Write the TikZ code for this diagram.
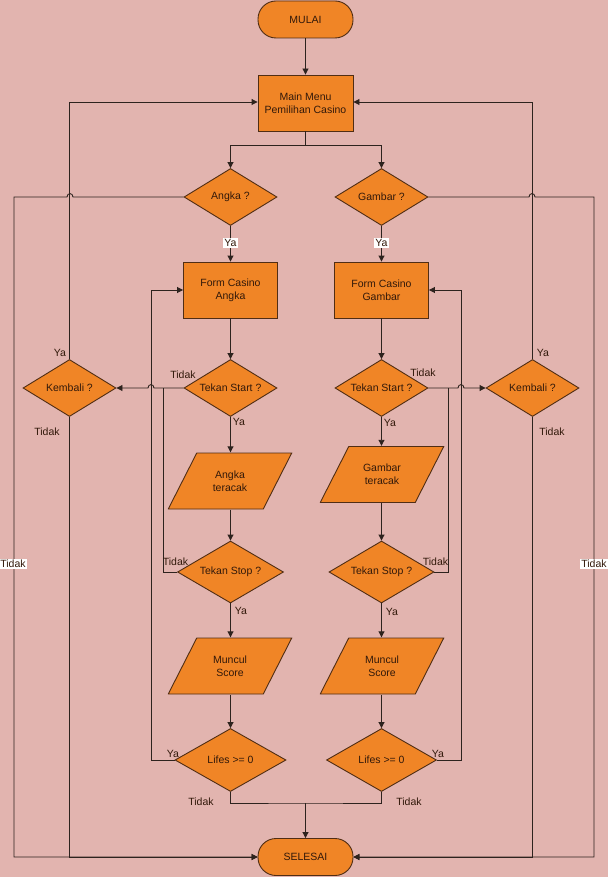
\documentclass[tikz,border=0pt]{standalone}
\usepackage{fontspec}
\setmainfont{Liberation Sans}
\usetikzlibrary{shapes.geometric,arrows.meta,calc}
\definecolor{bg}{RGB}{226,180,175}
\definecolor{orng}{RGB}{240,133,38}
\definecolor{edgec}{RGB}{80,45,20}
\definecolor{lnc}{RGB}{45,35,30}
\definecolor{txtc}{RGB}{50,25,10}
\begin{document}
\begin{tikzpicture}[x=1pt,y=-1pt,font=\fontsize{10.5}{13}\selectfont,
  shp/.style={draw=edgec,fill=orng,line width=0.9pt,text=txtc,align=center,inner sep=0pt},
  term/.style={shp,rectangle,rounded corners=18pt,minimum width=95pt,minimum height=37pt},
  procbox/.style={shp,rectangle,minimum width=94pt,minimum height=56pt},
  dec/.style={shp,diamond,aspect=1.7,minimum width=93pt,minimum height=57pt},
  iobox/.style={rectangle,inner sep=0pt,align=center,text=txtc,minimum width=124.5pt,minimum height=57pt,
    path picture={\draw[draw=edgec,fill=orng,line width=0.9pt]
      ([xshift=29pt,yshift=-0.5pt]path picture bounding box.north west) --
      ([xshift=-0.5pt,yshift=-0.5pt]path picture bounding box.north east) --
      ([xshift=-29pt,yshift=0.5pt]path picture bounding box.south east) --
      ([xshift=0.5pt,yshift=0.5pt]path picture bounding box.south west) -- cycle;}},
  con/.style={draw=lnc,line width=0.9pt},
  arr/.style={con,-{Triangle[length=6pt,width=6pt]}},
  lbl/.style={text=txtc,inner sep=1pt},
  wlbl/.style={lbl,fill=white}]
\fill[bg] (0,0) rectangle (608,877);
\useasboundingbox (0,0) rectangle (608,877);

% nodes
\node[term] (mulai) at (305.5,19.5) {MULAI};
\node[procbox,minimum width=95pt] (menu) at (305.5,103) {Main Menu\\Pemilihan Casino};
\node[dec] (angka) at (230.5,197) {Angka ?};
\node[dec] (gambar) at (381.5,197) {Gambar ?};
\node[procbox] (formA) at (230.5,290) {Form Casino\\Angka};
\node[procbox] (formG) at (381.5,290) {Form Casino\\Gambar};
\node[dec] (startA) at (230.5,388) {Tekan Start ?};
\node[dec] (startG) at (381.5,388) {Tekan Start ?};
\node[dec] (kemA) at (69.5,388) {Kembali ?};
\node[dec] (kemG) at (532.5,388) {Kembali ?};
\node[iobox] (acakA) at (230,481) {Angka\\teracak};
\node[iobox] (acakG) at (382,474.5) {Gambar\\teracak};
\node[dec,minimum width=106pt,minimum height=62pt] (stopA) at (230.5,572) {Tekan Stop ?};
\node[dec,minimum width=105pt,minimum height=62pt] (stopG) at (381.5,572) {Tekan Stop ?};
\node[iobox] (scoreA) at (230,666) {Muncul\\Score};
\node[iobox] (scoreG) at (382,666) {Muncul\\Score};
\node[dec,minimum width=111pt,minimum height=63pt] (lifesA) at (230.5,760) {Lifes >= 0};
\node[dec,minimum width=110pt,minimum height=63pt] (lifesG) at (381.5,760) {Lifes >= 0};
\node[term] (selesai) at (305.5,857) {SELESAI};

% main flow
\draw[arr] (mulai) -- (menu);
\draw[con] (menu.south) -- (305.5,145) coordinate (br);
\draw[arr] (br) -| (angka.north);
\draw[arr] (br) -| (gambar.north);
\draw[arr] (angka) -- (formA);
\draw[arr] (gambar) -- (formG);
\draw[arr] (formA) -- (startA);
\draw[arr] (formG) -- (startG);
\draw[arr] (startA.south) -- (startA.south |- acakA.north);
\draw[arr] (startG.south) -- (startG.south |- acakG.north);
\draw[arr] (stopA.north |- acakA.south) -- (stopA.north);
\draw[arr] (stopG.north |- acakG.south) -- (stopG.north);
\draw[arr] (stopA.south) -- (stopA.south |- scoreA.north);
\draw[arr] (stopG.south) -- (stopG.south |- scoreG.north);
\draw[arr] (lifesA.north |- scoreA.south) -- (lifesA.north);
\draw[arr] (lifesG.north |- scoreG.south) -- (lifesG.north);
\coordinate (jn) at (305.5,803);
\draw[con] (lifesA.south) |- (jn) -| (lifesG.south);
\draw[arr] (jn) -- (selesai.north);

% left side
\draw[arr] (angka.west) -- (73,197) .. controls (73,192.5) and (67,192.5) .. (67,197) -- (14,197) -- (14,857) -- (selesai.west);
\draw[arr] (kemA.north) -- (69.5,102) -- (menu.west |- 0,102);
\draw[arr] (kemA.south) -- (kemA.south |- selesai.west) -- (selesai.west);
\draw[arr] (startA.west) -- (154,388) .. controls (154,383.5) and (148,383.5) .. (148,388) -- (kemA.east);
\draw[con] (stopA.west) -- (163,572) -- (163,388);
\draw[arr] (lifesA.west) -- (151,760) -- (151,290) -- (formA.west);

% right side
\draw[arr] (gambar.east) -- (529,197) .. controls (529,192.5) and (535,192.5) .. (535,197) -- (594,197) -- (594,857) -- (selesai.east);
\draw[arr] (kemG.north) -- (532.5,102) -- (menu.east |- 0,102);
\draw[arr] (kemG.south) -- (kemG.south |- selesai.east) -- (selesai.east);
\draw[arr] (startG.east) -- (458,388) .. controls (458,383.5) and (464,383.5) .. (464,388) -- (kemG.west);
\draw[con] (stopG.east) -- (448,572) -- (448,388);
\draw[arr] (lifesG.east) -- (461,760) -- (461,290) -- (formG.east);

% labels
\node[wlbl] (ya1) at (230.5,243) {Ya};
\node[wlbl] (ya2) at (381.5,243) {Ya};
\node[lbl] (t1) at (183,375) {Tidak};
\node[lbl] (y3) at (239,422) {Ya};
\node[lbl] (t2) at (423,373) {Tidak};
\node[lbl] (y4) at (390,423) {Ya};
\node[lbl] (y5) at (60,353) {Ya};
\node[lbl] (t3) at (47,432) {Tidak};
\node[lbl] (y6) at (543,353) {Ya};
\node[lbl] (t4) at (552,432) {Tidak};
\node[wlbl] (t5) at (13,564) {Tidak};
\node[wlbl] (t6) at (594,564) {Tidak};
\node[lbl] (t7) at (175.5,562) {Tidak};
\node[lbl] (t8) at (435.5,562) {Tidak};
\node[lbl] (y7) at (241,611) {Ya};
\node[lbl] (y8) at (392,612) {Ya};
\node[lbl] (y9) at (173,754) {Ya};
\node[lbl] (y10) at (438,754) {Ya};
\node[lbl] (t9) at (201,802) {Tidak};
\node[lbl] (t10) at (409,802) {Tidak};
\end{tikzpicture}
\end{document}
